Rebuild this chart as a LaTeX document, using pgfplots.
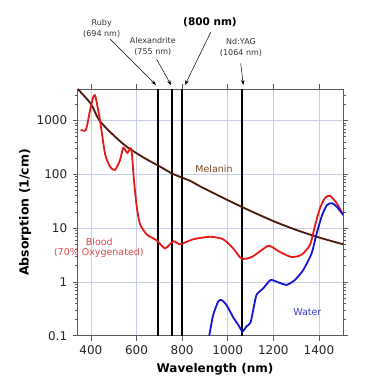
\documentclass[border=0pt]{standalone}
\usepackage{fontspec}
\setmainfont{DejaVu Sans}
\usepackage{pgfplots}
\pgfplotsset{compat=1.18}
\usetikzlibrary{arrows.meta}
\definecolor{gridc}{RGB}{200,205,230}
\definecolor{framec}{RGB}{90,90,90}
\definecolor{bloodc}{RGB}{230,25,25}
\definecolor{waterc}{RGB}{20,20,210}
\definecolor{melc}{RGB}{75,25,10}
\definecolor{bloodlab}{RGB}{220,70,70}
\definecolor{mellab}{RGB}{120,70,30}
\definecolor{waterlab}{RGB}{60,60,200}
\begin{document}
\begin{tikzpicture}
\useasboundingbox (-77.7pt,-49.3pt) rectangle (314.3pt,335.7pt);
\begin{axis}[
  at={(0pt,0pt)}, anchor=south west,
  scale only axis, width=265.6pt, height=246.7pt,
  xmin=342, xmax=1507,
  ymode=log, ymin=0.1, ymax=3850,
  xtick={400,600,800,1000,1200,1400},
  xticklabels={400,600,800,1000,1200,1400},
  ytick={0.1,1,10,100,1000},
  yticklabels={0.1,1,10,100,1000},
  minor ytick={0.2,0.3,0.4,0.5,0.6,0.7,0.8,0.9,2,3,4,5,6,7,8,9,20,30,40,50,60,70,80,90,200,300,400,500,600,700,800,900,2000,3000},
  minor xtick={},
  grid=major,
  major grid style={color=gridc, line width=0.6pt},
  tick align=outside,
  major tick length=5pt, minor tick length=3pt,
  axis line style={color=framec, line width=0.8pt},
  every tick/.style={color=framec, line width=0.6pt},
  tick label style={font=\fontsize{12}{14}\selectfont, color=black!85},
  yticklabel style={xshift=-2pt},
  xticklabel style={yshift=-1pt},
  xlabel={\textbf{Wavelength (nm)}},
  ylabel={\textbf{Absorption (1/cm)}},
  xlabel style={at={(axis description cs:0.517,-0.135)}, anchor=center, font=\fontsize{12}{14}\selectfont},
  ylabel style={at={(axis description cs:-0.198,0.5)}, anchor=center, font=\fontsize{12.5}{14}\selectfont},
]
% laser lines
\addplot[black, line width=2pt] coordinates {(694,0.1) (694,3850)};
\addplot[black, line width=2pt] coordinates {(755,0.1) (755,3850)};
\addplot[black, line width=2pt] coordinates {(800,0.1) (800,3850)};
\addplot[black, line width=2pt] coordinates {(1064,0.1) (1064,3850)};
% melanin
\addplot[melc, line width=1.8pt, smooth] coordinates {
(342,3850) (400,2030) (436,1020) (498,538) (557,326) (629,207) (703,139)
(761,101) (834,76) (878,60) (966,39) (1064,24.5) (1200,13.5) (1302,9.2)
(1400,6.7) (1507,5.0)};
% blood
\addplot[bloodc, line width=1.8pt, smooth, tension=0.4] coordinates {
(355,670) (378,670) (396,1540) (410,2700) (418,2950) (428,1900) (440,1000)
(462,240) (484,138) (505,120) (527,180) (542,310) (560,250) (577,295)
(589,76) (601,25) (615,12) (645,7.6) (689,5.9) (725,4.2) (762,5.7)
(791,5.0) (849,6.2) (922,6.9) (980,6.2) (1024,4.2) (1061,2.7) (1105,2.9)
(1149,3.9) (1182,4.7) (1229,3.6) (1280,2.9) (1324,3.2) (1361,4.9)
(1382,10.7) (1404,23) (1426,36) (1448,40) (1478,29) (1507,17.5)};
% water
\addplot[waterc, line width=1.8pt, smooth, tension=0.4] coordinates {
(919,0.1) (936,0.24) (958,0.43) (973,0.46) (995,0.37) (1024,0.22)
(1050,0.15) (1065,0.12) (1083,0.15) (1100,0.175) (1115,0.35) (1127,0.58)
(1156,0.76) (1188,1.08) (1222,0.98) (1258,0.88) (1294,1.08) (1331,1.66)
(1368,3.4) (1390,7.9) (1414,17.3) (1436,27) (1458,29) (1478,25) (1507,17.5)};
\end{axis}
% curve labels
\node[color=mellab, font=\fontsize{9.5}{11}\selectfont] at (136.3pt,166.7pt) {Melanin};
\node[color=waterlab, font=\fontsize{9.5}{11}\selectfont] at (229.6pt,24pt) {Water};
\node[color=bloodlab, font=\fontsize{9.5}{11}\selectfont] at (21.6pt,94pt) {Blood};
\node[color=bloodlab, font=\fontsize{9.5}{11}\selectfont] at (21.1pt,82.4pt) {(70\% Oxygenated)};
% laser annotations
\node[align=center, font=\fontsize{8}{11}\selectfont, color=black!80] at (24pt,307.2pt) {Ruby\\(694 nm)};
\node[align=center, font=\fontsize{8}{11}\selectfont, color=black!80] at (75.1pt,289.5pt) {Alexandrite\\(755 nm)};
\node[font=\bfseries\fontsize{10.5}{12}\selectfont] at (132.3pt,313.7pt) {(800 nm)};
\node[align=center, font=\fontsize{8}{11}\selectfont, color=black!80] at (163.3pt,288.7pt) {Nd:YAG\\(1064 nm)};
\draw[-{Stealth[length=5pt,width=3.5pt]}, line width=0.5pt] (32.3pt,296.7pt) -- (78.3pt,250.7pt);
\draw[-{Stealth[length=5pt,width=3.5pt]}, line width=0.5pt] (79pt,276.4pt) -- (93.3pt,250.7pt);
\draw[-{Stealth[length=5pt,width=3.5pt]}, line width=0.5pt] (133pt,303.4pt) -- (107.3pt,250.7pt);
\draw[-{Stealth[length=5pt,width=3.5pt]}, line width=0.5pt] (163pt,272.4pt) -- (165.6pt,250.7pt);
\end{tikzpicture}
\end{document}
